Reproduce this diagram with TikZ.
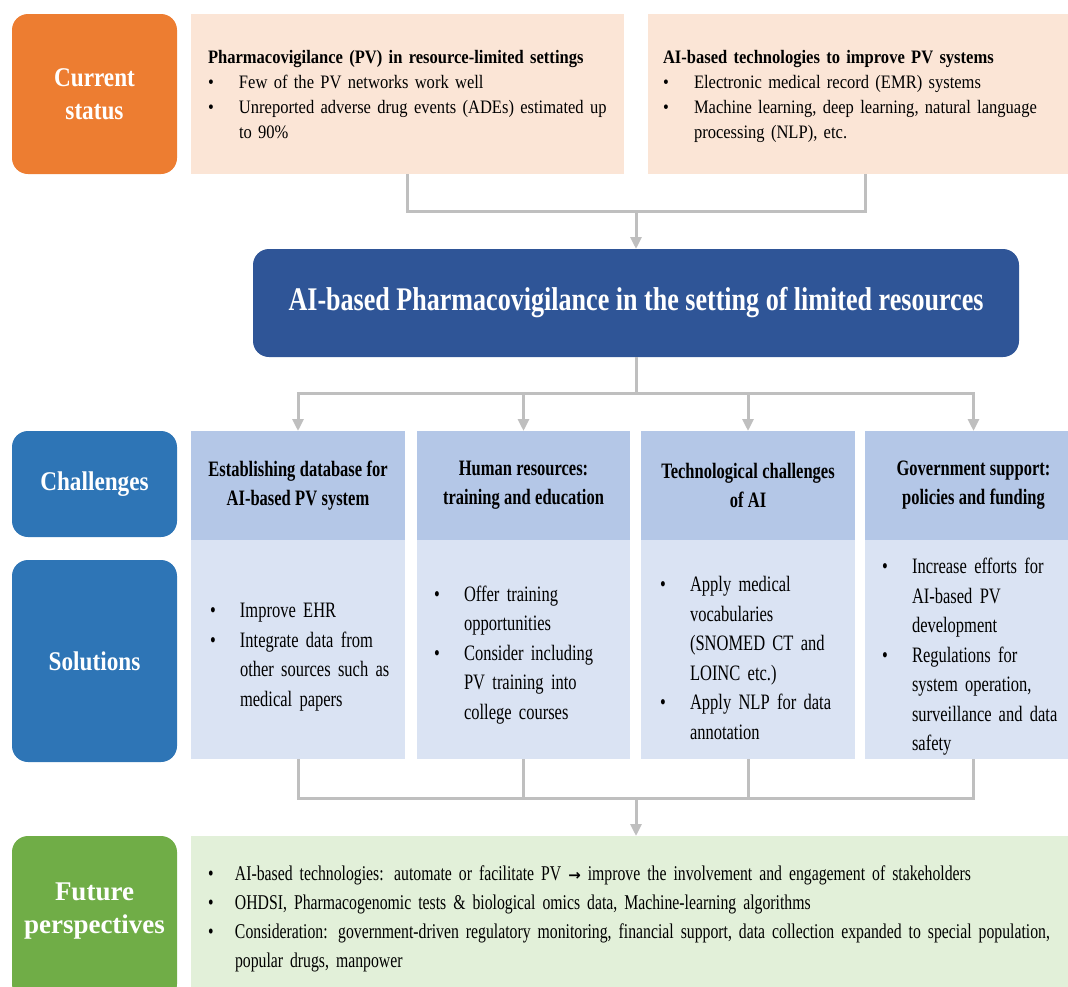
\documentclass[tikz,border=0pt]{standalone}
\usepackage{fontspec}
\setmainfont{Liberation Serif}
\newfontfamily\topfont[FakeStretch=0.87]{Liberation Serif}
\newfontfamily\colfont[FakeStretch=0.75]{Liberation Serif}
\newfontfamily\headfont[FakeStretch=0.75]{Liberation Serif}
\newfontfamily\titlefont[FakeStretch=0.79]{Liberation Serif}
\newfontfamily\sidefont[FakeStretch=0.86]{Liberation Serif}
\newfontfamily\widesidefont{Liberation Serif}
\newfontfamily\futfont[FakeStretch=0.75]{Liberation Serif}
\newfontfamily\arrowfont{DejaVu Sans}
\usetikzlibrary{arrows.meta}

\definecolor{csorange}{HTML}{ED7D31}
\definecolor{cspink}{HTML}{FBE5D6}
\definecolor{titleblue}{HTML}{2F5597}
\definecolor{sideblue}{HTML}{2E75B6}
\definecolor{headblue}{HTML}{B4C7E7}
\definecolor{bodyblue}{HTML}{DAE3F3}
\definecolor{fpgreen}{HTML}{70AD47}
\definecolor{fplight}{HTML}{E2F0D9}
\definecolor{linkgray}{HTML}{BFBFBF}

% bullet item with hanging indent \bind; \nl breaks a line inside an item
\newlength\bind
\newcommand\bitem[1]{\par\noindent\hangindent=\bind\hangafter=1\makebox[\bind][l]{\textbullet}#1}
\newcommand\nl{\hfil\break}
% fixed interword space for the narrowed faces
\newcommand\wordgap[1]{\spaceskip=#1 plus 1pt minus 1pt\relax}

\begin{document}
\begin{tikzpicture}[x=1pt,y=-1pt,
  box/.style={inner sep=0pt,outer sep=0pt,draw=none},
  sidebox/.style={box,rounded corners=16pt,minimum width=165pt,text=white,align=center,
     font=\fontsize{27}{33}\selectfont\sidefont\bfseries},
  topbox/.style={box,fill=cspink,minimum height=160pt},
  headbox/.style={box,fill=headblue,minimum height=109pt,align=center,
     font=\fontsize{22}{29}\selectfont\headfont\bfseries\wordgap{4.4pt}},
  bodybox/.style={box,fill=bodyblue,minimum height=219pt},
  blist/.style={inner sep=0pt,outer sep=0pt,text width=#1,align=left},
  coltext/.style={blist=200pt,anchor=west,font=\fontsize{22}{29.5}\selectfont\colfont
     \setlength\parskip{0pt}\setlength\bind{30pt}\wordgap{4.1pt}},
  toptext/.style={blist=#1,anchor=base west,font=\fontsize{19}{25}\selectfont\topfont
     \setlength\parskip{0pt}\setlength\bind{31pt}\wordgap{4.1pt}},
  conn/.style={draw=linkgray,line width=3pt},
  arr/.style={conn,-{Triangle[width=11pt,length=12pt]}},
]
\useasboundingbox (0,0) rectangle (1068,986);
\clip (0,0) rectangle (1068,986);

% ---- current status
\node[sidebox,fill=csorange,minimum height=160pt] (cs) at (94.5,94) {Current\\status};
\node[topbox,minimum width=433pt] (pv) at (407.5,94) {};
\node[topbox,minimum width=434pt] (ai) at (865,94) {};
\node[toptext=420pt] (pvt) at (208,63)
 {\textbf{Pharmacovigilance (PV) in resource-limited settings}%
  \bitem{Few of the PV networks work well}%
  \bitem{Unreported adverse drug events (ADEs) estimated up\nl to 90\%}\par};
\node[toptext=400pt] (ait) at (663,63)
 {\textbf{AI-based technologies to improve PV systems}%
  \bitem{Electronic medical record (EMR) systems}%
  \bitem{Machine learning, deep learning, natural language\nl processing (NLP), etc.}\par};

% ---- central topic
\node[box,fill=titleblue,rounded corners=16pt,minimum width=766pt,minimum height=108pt,text=white,
  font=\fontsize{33}{40}\selectfont\titlefont\bfseries] (title) at (636,303)
  {AI-based Pharmacovigilance in the setting of limited resources};

% ---- challenges
\node[sidebox,fill=sideblue,minimum height=106pt] (ch) at (94.5,484) {Challenges};
\node[headbox,minimum width=214pt] (h1) at (298,485.5) {Establishing database for\\AI-based PV system};
\node[headbox,minimum width=213pt] (h2) at (523.5,485.5) {Human resources:\\training and education};
\node[headbox,minimum width=214pt] (h3) at (748,485.5) {Technological challenges\\of AI};
\node[headbox,minimum width=217pt] (h4) at (973.5,485.5) {Government support:\\policies and funding};

% ---- solutions
\node[sidebox,fill=sideblue,minimum height=202pt] (so) at (94.5,661) {Solutions};
\node[bodybox,minimum width=214pt] (b1) at (298,649.5) {};
\node[bodybox,minimum width=213pt] (b2) at (523.5,649.5) {};
\node[bodybox,minimum width=214pt] (b3) at (748,649.5) {};
\node[bodybox,minimum width=217pt] (b4) at (973.5,649.5) {};
\node[coltext] (s1) at (210,649.5)
 {\bitem{Improve EHR}\bitem{Integrate data from\nl other sources such as\nl medical papers}\par};
\node[coltext] (s2) at (434,648)
 {\bitem{Offer training\nl opportunities}\bitem{Consider including\nl PV training into\nl college courses}\par};
\node[coltext] (s3) at (660,651)
 {\bitem{Apply medical\nl vocabularies\nl (SNOMED CT and\nl LOINC etc.)}\bitem{Apply NLP for data\nl annotation}\par};
\node[coltext] (s4) at (882,650)
 {\bitem{Increase efforts for\nl AI-based PV\nl development}\bitem{Regulations for\nl system operation,\nl surveillance\hspace{7pt}and data\nl safety}\par};

% ---- future perspectives
\node[box,fill=fpgreen,rounded corners=16pt,minimum width=165pt,minimum height=164pt] (fp) at (94.5,918) {};
\node[box,text=white,align=center,font=\fontsize{27}{33}\selectfont\widesidefont\bfseries] (fpt) at (94.5,911) {Future\\perspectives};
\node[box,fill=fplight,minimum width=891pt,minimum height=164pt] (fb) at (636.5,918) {};
\node[blist=870pt,anchor=west,font=\fontsize{21}{29}\selectfont\futfont
    \setlength\parskip{0pt}\setlength\bind{27pt}\wordgap{4pt}] (fbt) at (208,912)
 {\bitem{AI-based technologies: automate or facilitate PV {\arrowfont\bfseries\fontsize{15}{15}\selectfont →} improve the involvement and engagement of stakeholders}%
  \bitem{OHDSI, Pharmacogenomic tests \& biological omics data, Machine-learning algorithms}%
  \bitem{Consideration: government-driven regulatory monitoring, financial support, data collection expanded to special population,\nl popular drugs, manpower}\par};

% ---- connectors
\coordinate (j1) at (636,211);
\draw[conn] (pv.south) |- (j1) -| (ai.south);
\draw[arr] (j1) -- (title.north);

\coordinate (j2) at (636,393);
\draw[conn] (title.south) -- (j2);
\draw[conn,line cap=rect] (h1.north |- j2) -- (h4.north |- j2);
\foreach \h in {h1,h2,h3,h4} \draw[arr] (\h.north |- j2) -- (\h.north);

\coordinate (j3) at (636,798);
\foreach \b in {b1,b2,b3,b4} \draw[conn] (\b.south) -- (\b.south |- j3);
\draw[conn,line cap=rect] (b1.south |- j3) -- (b4.south |- j3);
\draw[arr] (j3) -- (j3 |- fb.north);
\end{tikzpicture}
\end{document}
